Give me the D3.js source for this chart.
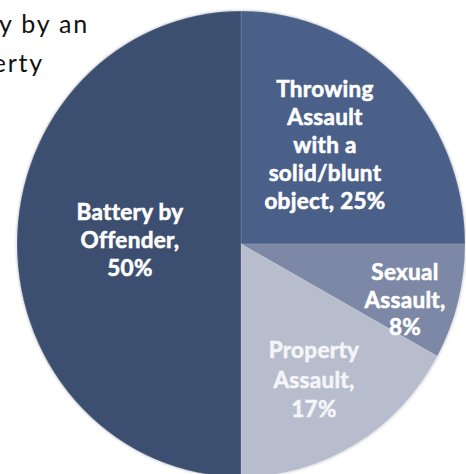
<!DOCTYPE html>
<html>
<head>
<meta charset="utf-8">
<script src="https://cdn.jsdelivr.net/npm/d3@7"></script>
<style>
  html, body { margin: 0; padding: 0; background: #fff; overflow: hidden; }
  svg { display: block; }
</style>
</head>
<body>
<svg id="chart" width="466" height="474"></svg>
<script>
// ---- data ----
const categories = ["Throwing Assault with a solid/blunt object", "Sexual Assault", "Property Assault", "Battery by Offender"];
const values = [25, 8, 17, 50];
const colors = ["#4B6188", "#7B88A5", "#B7BDCC", "#3E5070"];
const labelLines = [
  ["Throwing", "Assault", "with a", "solid/blunt", "object, 25%"],
  ["Sexual", "Assault,", "8%"],
  ["Property", "Assault,", "17%"],
  ["Battery by", "Offender,", "50%"]
];
const titleLines = ["y by an", "erty"];

// ---- layout ----
const cx = 241, cy = 244, rx = 224, ry = 233;
const svg = d3.select("#chart");

const defs = svg.append("defs");
const f = defs.append("filter").attr("id", "sh").attr("x", "-10%").attr("y", "-10%").attr("width", "120%").attr("height", "120%");
f.append("feDropShadow").attr("dx", 0).attr("dy", 0).attr("stdDeviation", 1.6)
  .attr("flood-color", "#000").attr("flood-opacity", 0.35);

// title fragments (cut off by the frame)
const title = svg.append("g").attr("font-family", "Lato, 'Open Sans', sans-serif")
  .attr("font-size", 25).attr("fill", "#111").attr("letter-spacing", 1.8);
const titleRight = [89, 44];
const titleBase = [33, 72];
titleLines.forEach((t, i) => {
  title.append("text").attr("x", titleRight[i]).attr("y", titleBase[i])
    .attr("text-anchor", "end").text(t);
});

const pie = d3.pie().sort(null).value(d => d)(values);
const arc = d3.arc().innerRadius(0).outerRadius(rx);

const g = svg.append("g").attr("transform", `translate(${cx},${cy}) scale(1,${ry / rx})`);
g.append("g").attr("filter", "url(#sh)")
  .selectAll("path").data(pie).join("path")
  .attr("d", arc)
  .attr("fill", (d, i) => colors[i])
  .attr("stroke", "rgba(255,255,255,0.25)")
  .attr("stroke-width", 0.6);

// labels
const labelPos = [
  { x: 325, y: 97 },
  { x: 405, y: 280 },
  { x: 314, y: 358 },
  { x: 130, y: 220 }
];
const lineH = [28, 27.5, 29.5, 28];
const lab = svg.append("g").attr("font-family", "Lato, 'Open Sans', sans-serif")
  .attr("font-weight", "bold").attr("font-size", 22.5).attr("text-anchor", "middle")
  .attr("letter-spacing", 0.3);
labelLines.forEach((lines, i) => {
  const c = i === 2 ? "#F4F5F8" : "#fff";
  const t = lab.append("text").attr("fill", c).attr("stroke", c).attr("stroke-width", 0.6);
  lines.forEach((ln, j) => {
    t.append("tspan").attr("x", labelPos[i].x).attr("y", labelPos[i].y + j * lineH[i]).text(ln);
  });
});
</script>
</body>
</html>
